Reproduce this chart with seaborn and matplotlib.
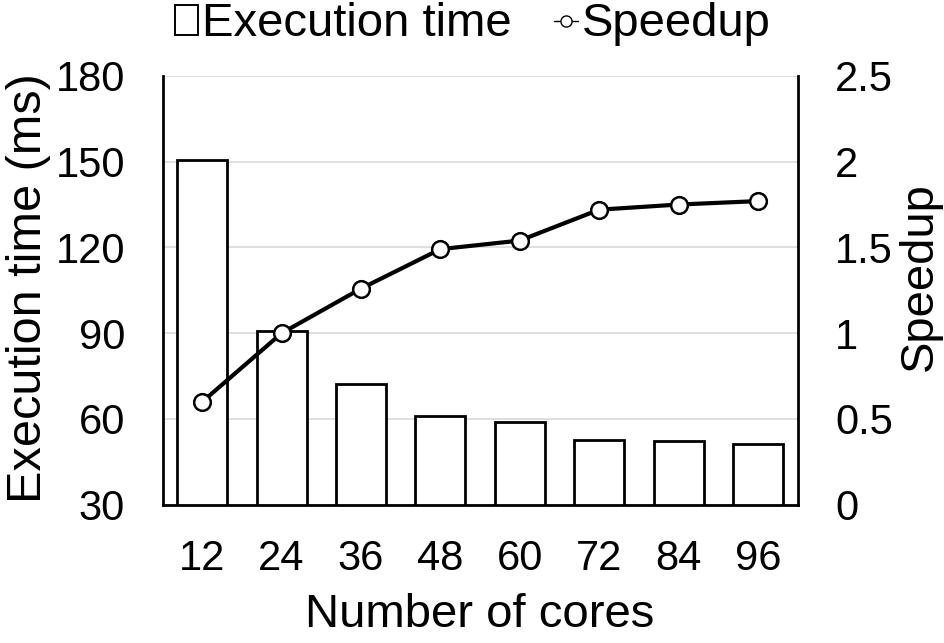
import numpy as np
import pandas as pd
import matplotlib
matplotlib.use('Agg')
import matplotlib.pyplot as plt
import seaborn as sns
from matplotlib.patches import Patch
from matplotlib.lines import Line2D

cores = ['12', '24', '36', '48', '60', '72', '84', '96']
exec_time = [150.6, 90.8, 72.3, 60.9, 58.8, 52.8, 52.2, 51.4]
speedup = [0.60, 1.00, 1.26, 1.49, 1.54, 1.72, 1.75, 1.77]

df = pd.DataFrame({'cores': cores, 'time': exec_time, 'speedup': speedup})

sns.set_theme(style='white')
plt.rcParams['font.family'] = ['Liberation Sans', 'DejaVu Sans']
plt.rcParams['text.color'] = 'black'
plt.rcParams['axes.labelcolor'] = 'black'
plt.rcParams['xtick.color'] = 'black'
plt.rcParams['ytick.color'] = 'black'

fig, ax = plt.subplots(figsize=(9.45, 6.43), dpi=100)
fig.subplots_adjust(left=0.172, right=0.844, top=0.882, bottom=0.215)

sns.barplot(data=df, x='cores', y='time', ax=ax, color='white', saturation=1,
            edgecolor='black', linewidth=2, width=0.63, zorder=2)
ax.set_ylim(30, 180)
ax.set_yticks([30, 60, 90, 120, 150, 180])
ax.yaxis.grid(True, color='#d9d9d9', linewidth=1.2, zorder=0)
ax.set_axisbelow(True)
ax.set_xlabel('Number of cores', fontsize=34)
ax.set_ylabel('Execution time (ms)', fontsize=35)
ax.xaxis.set_label_coords(0.5, -0.206)
ax.yaxis.set_label_coords(-0.176, 0.505)
ax.tick_params(axis='both', labelsize=30, length=0)
ax.tick_params(axis='x', pad=25)
ax.tick_params(axis='y', pad=27)

ax2 = ax.twinx()
sns.pointplot(data=df, x='cores', y='speedup', ax=ax2, color='black',
              errorbar=None, markers='o', markersize=12, linewidth=3,
              markerfacecolor='white', markeredgecolor='black',
              markeredgewidth=1.8)
ax2.set_ylim(0, 2.5)
ax2.set_yticks([0, 0.5, 1, 1.5, 2, 2.5])
ax2.set_yticklabels(['0', '0.5', '1', '1.5', '2', '2.5'])
ax2.set_ylabel('Speedup', fontsize=34)
ax2.yaxis.set_label_coords(1.158, 0.531)
ax2.tick_params(axis='y', labelsize=30, length=0, pad=27)
ax2.grid(False)
ax.set_xlim(-0.5, 7.5)
ax2.set_xlim(-0.5, 7.5)

for a in (ax, ax2):
    a.spines['top'].set_visible(False)
    for s in ['left', 'right', 'bottom']:
        a.spines[s].set_color('black')
        a.spines[s].set_linewidth(2)
ax.spines['right'].set_visible(False)
ax2.spines['left'].set_visible(False)
ax2.spines['bottom'].set_visible(False)

handles = [Patch(facecolor='white', edgecolor='black', linewidth=1.4),
           Line2D([0], [0], color='black', linewidth=1, marker='o', markersize=8,
                  markerfacecolor='white', markeredgecolor='black')]
fig.legend(handles, ['Execution time', 'Speedup'], loc='center',
           bbox_to_anchor=(0.5, 0.962), ncol=2, frameon=False, fontsize=34,
           handlelength=0.5, handleheight=0.6, handletextpad=0.08,
           columnspacing=0.9, borderpad=0)

fig.savefig('out.png', dpi=100)
